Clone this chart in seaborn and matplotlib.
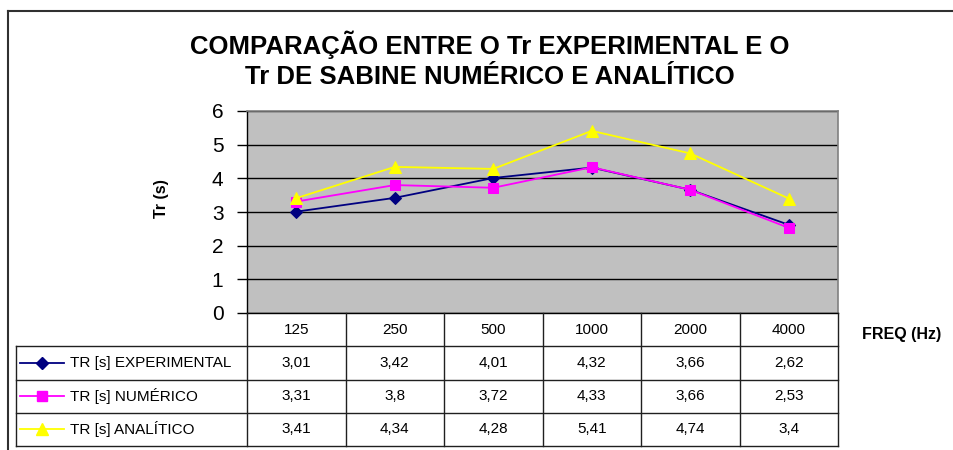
import numpy as np
import pandas as pd
import matplotlib
matplotlib.use('Agg')
import matplotlib.pyplot as plt
from matplotlib.lines import Line2D
import seaborn as sns

# Data (values also shown in the data table)
FREQS = ['125', '250', '500', '1000', '2000', '4000']
TR_EXPERIMENTAL = [3.01, 3.42, 4.01, 4.32, 3.66, 2.62]
TR_NUMERICO = [3.31, 3.8, 3.72, 4.33, 3.66, 2.53]
TR_ANALITICO = [3.41, 4.34, 4.28, 5.41, 4.74, 3.4]
SERIES_NAMES = ['TR [s] EXPERIMENTAL', 'TR [s] NUMÉRICO', 'TR [s] ANALÍTICO']

TITLE = 'COMPARAÇÃO ENTRE O Tr EXPERIMENTAL E O\nTr DE SABINE NUMÉRICO E ANALÍTICO'

COLORS = ['#000080', '#FF00FF', '#FFFF00']
MARKERS = ['D', 's', '^']
MSIZES = [6, 7.5, 9]

plt.rcParams['font.family'] = ['Liberation Sans', 'DejaVu Sans']

W, H = 954, 450
fig = plt.figure(figsize=(9.54, 4.5), dpi=100)


def fx(px):
    return px / W


def fy(py):
    return 1 - py / H


# plot area
ax = fig.add_axes([fx(247), fy(313), fx(838) - fx(247), fy(111) - fy(313)])
ax.set_facecolor('#C0C0C0')

df = pd.DataFrame({
    'pos': np.tile(np.arange(len(FREQS)), 3),
    'tr': TR_EXPERIMENTAL + TR_NUMERICO + TR_ANALITICO,
    'serie': np.repeat(SERIES_NAMES, len(FREQS)),
})

for name, col, mk, ms in zip(SERIES_NAMES, COLORS, MARKERS, MSIZES):
    sub = df[df['serie'] == name]
    sns.lineplot(data=sub, x='pos', y='tr', color=col, marker=mk, markersize=ms,
                 markeredgecolor=col, linewidth=1.3, legend=False, ax=ax, zorder=3)

ax.set_xlim(-0.5, len(FREQS) - 0.5)
ax.set_ylim(0, 6)
ax.set_yticks(range(7))
ax.set_xticks([])
ax.set_xlabel('')
ax.set_ylabel('')
ax.yaxis.grid(True, color='black', linewidth=1)
ax.set_axisbelow(True)
ax.tick_params(axis='y', direction='out', length=7, width=1, labelsize=15, pad=10)
for s in ['top', 'right']:
    ax.spines[s].set_color('#808080')
    ax.spines[s].set_linewidth(1.2)
for s in ['left', 'bottom']:
    ax.spines[s].set_color('black')
    ax.spines[s].set_linewidth(1)

fig.text(fx(162), fy(199), 'Tr (s)', rotation=90, ha='center', va='center',
         fontsize=11.5, fontweight='bold')

# data table under the plot
tab = fig.add_axes([fx(16), fy(446), fx(838) - fx(16), fy(313) - fy(446)])
tab.axis('off')
col_w = (838 - 247) / len(FREQS)
xl = -0.5 - (247 - 16) / col_w
xr = len(FREQS) - 0.5
tab.set_xlim(xl, xr)
tab.set_ylim(4, 0)

lc = '#202020'
for r in range(1, 5):
    tab.plot([xl, xr], [r, r], color=lc, lw=1, clip_on=False)
for k in range(len(FREQS) + 1):
    tab.plot([-0.5 + k, -0.5 + k], [0, 4], color=lc, lw=1, clip_on=False)
tab.plot([xl, xl], [1, 4], color=lc, lw=1, clip_on=False)

for i, f in enumerate(FREQS):
    tab.text(i, 0.5, f, ha='center', va='center', fontsize=11)

all_series = [TR_EXPERIMENTAL, TR_NUMERICO, TR_ANALITICO]
for r, (vals, name, col, mk, ms) in enumerate(zip(all_series, SERIES_NAMES, COLORS, MARKERS, MSIZES)):
    yy = r + 1.5
    for i, v in enumerate(vals):
        tab.text(i, yy, str(v).replace('.', ','), ha='center', va='center', fontsize=11)
    x0 = xl + (20 - 16) / col_w
    x1 = xl + (64 - 16) / col_w
    xm = xl + (42 - 16) / col_w
    tab.plot([x0, x1], [yy, yy], color=col, lw=1.3, clip_on=False)
    tab.plot([xm], [yy], marker=mk, markersize=ms, color=col, clip_on=False)
    tab.text(xl + (70 - 16) / col_w, yy, name, ha='left', va='center', fontsize=11)

fig.text(fx(902), fy(335), 'FREQ (Hz)', ha='center', va='center',
         fontsize=11.5, fontweight='bold')

fig.text(fx(490), fy(60), TITLE, ha='center', va='center', fontsize=18.5,
         fontweight='bold', linespacing=1.3)

# chart border
fig.add_artist(Line2D([fx(8), 1], [fy(11), fy(11)], color='#303030', lw=1.5))
fig.add_artist(Line2D([fx(8), fx(8)], [fy(11), 0], color='#303030', lw=1.5))

fig.savefig('out.png', dpi=100)
